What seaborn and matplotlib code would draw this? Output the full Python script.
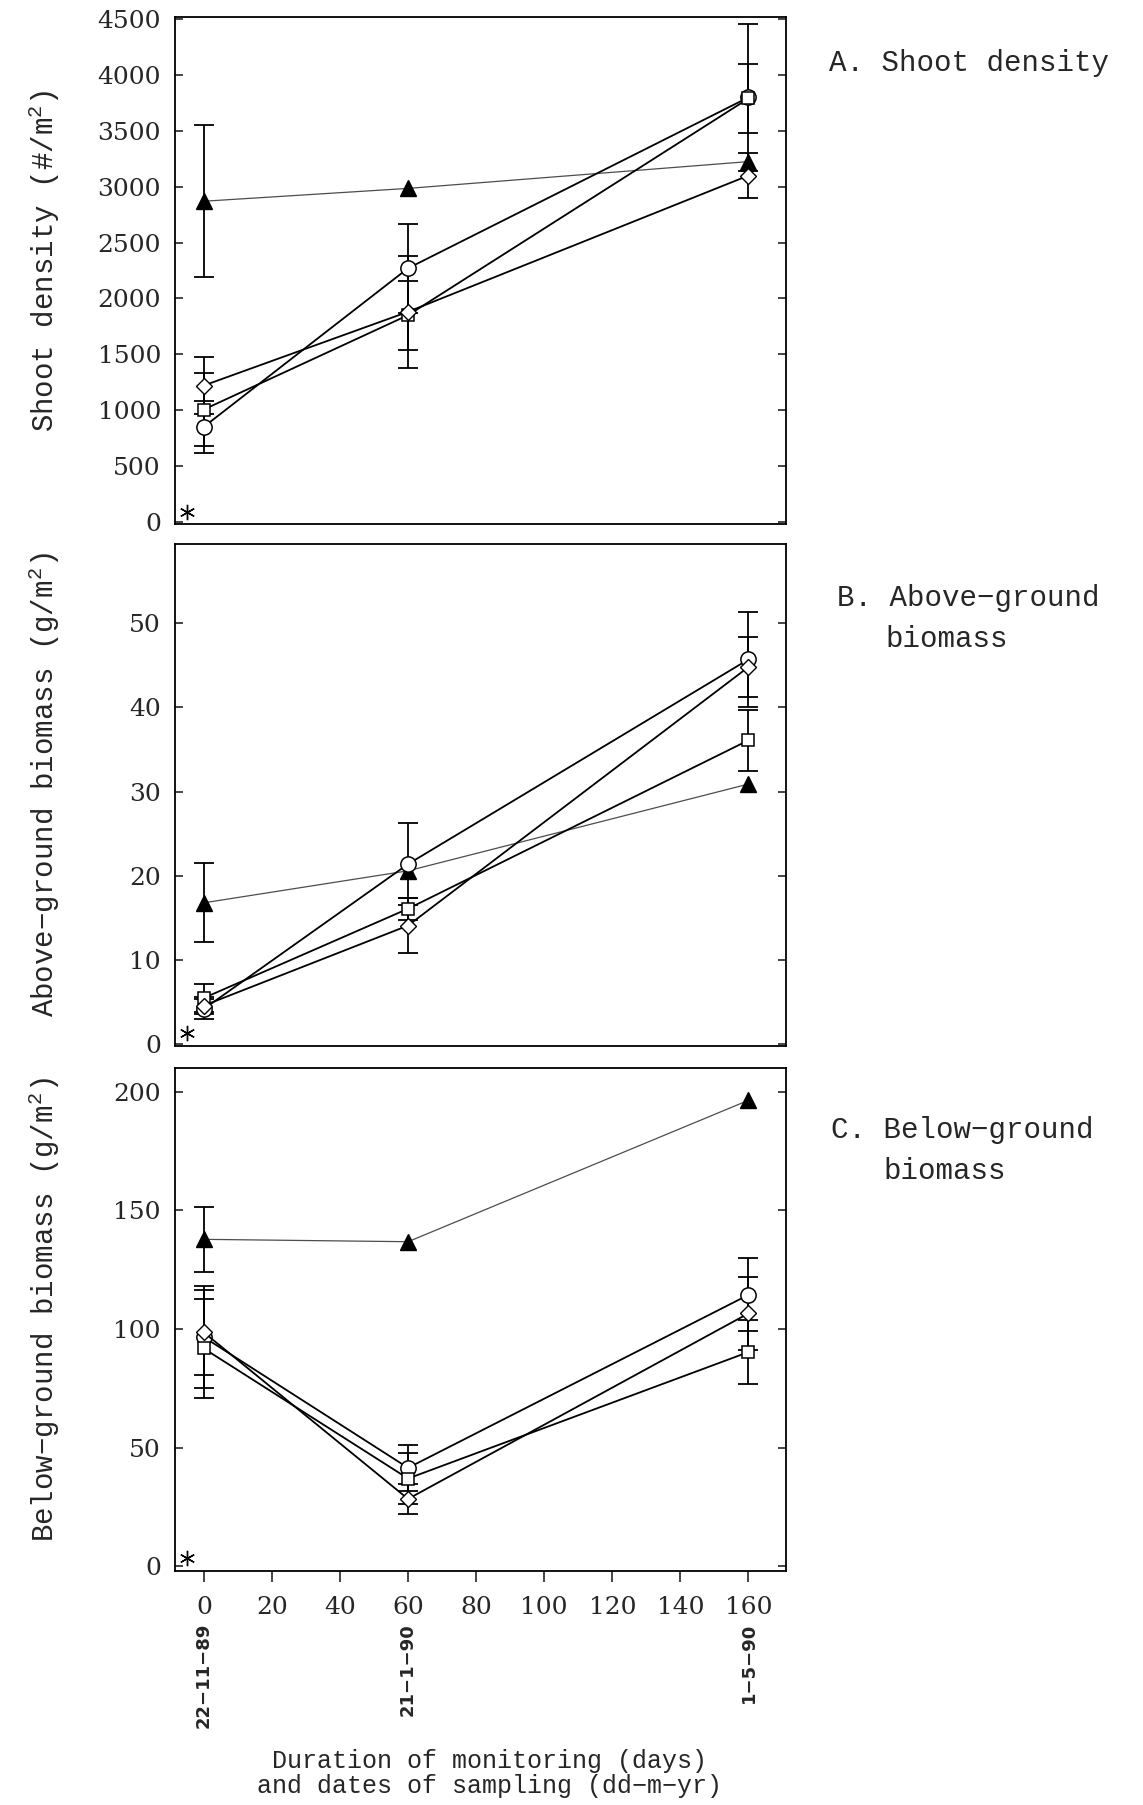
import numpy as np
import pandas as pd
import matplotlib
matplotlib.use('Agg')
import matplotlib.pyplot as plt
import matplotlib.transforms as mtransforms
import seaborn as sns

# sampling days and dates
days = [0, 60, 160]
dates = ['22\u221211\u221289', '21\u22121\u221290', '1\u22125\u221290']

# A. shoot density (#/m2)
shoot_circle = [850, 2270, 3800]
shoot_circle_err = [230, 400, 660]
shoot_square = [1005, 1850, 3790]
shoot_square_err = [325, 310, 310]
shoot_diamond = [1220, 1880, 3100]
shoot_diamond_err = [255, 500, 200]
shoot_triangle = [2870, 2985, 3225]
shoot_triangle_err = [680, 0, 0]

# B. above-ground biomass (g/m2)
above_circle = [4.2, 21.4, 45.7]
above_circle_err = [1.2, 4.9, 5.6]
above_square = [5.5, 16.1, 36.1]
above_square_err = [1.7, 1.3, 3.6]
above_diamond = [4.6, 14.1, 44.8]
above_diamond_err = [1.0, 3.3, 3.6]
above_triangle = [16.8, 20.6, 30.9]
above_triangle_err = [4.7, 0, 0]

# C. below-ground biomass (g/m2)
below_circle = [96.6, 41.5, 114.4]
below_circle_err = [21.6, 9.8, 15.4]
below_square = [91.8, 37.0, 90.3]
below_square_err = [21.0, 10.6, 13.6]
below_diamond = [98.6, 28.4, 106.6]
below_diamond_err = [18.0, 6.5, 15.4]
below_triangle = [137.8, 136.8, 196.4]
below_triangle_err = [13.6, 0, 0]

sns.set_style('ticks')
plt.rcParams['font.family'] = ['DejaVu Serif']
plt.rcParams['mathtext.fontset'] = 'custom'
plt.rcParams['mathtext.rm'] = 'Liberation Mono'
MONO = ['Liberation Mono', 'DejaVu Sans Mono']

fig = plt.figure(figsize=(11.43, 18.05), dpi=100)
axA = fig.add_axes([0.153, 0.7097, 0.5346, 0.2809])
axB = fig.add_axes([0.153, 0.4205, 0.5346, 0.2781])
axC = fig.add_axes([0.153, 0.1296, 0.5346, 0.2787])

marker_style = {
    'circle': dict(marker='o', markersize=11, mfc='white', mec='black', mew=1.1),
    'square': dict(marker='s', markersize=9, mfc='white', mec='black', mew=1.1),
    'diamond': dict(marker='D', markersize=8, mfc='white', mec='black', mew=1.0),
    'triangle': dict(marker='^', markersize=11, mfc='black', mec='black', mew=1.0),
}


def draw_panel(ax, series, ylim, yticks, ylabel, star_y):
    for name, vals, errs in series:
        tri = name == 'triangle'
        errs = [e if e > 0 else np.nan for e in errs]
        ax.errorbar(days, vals, yerr=errs, fmt='none', ecolor='black',
                    elinewidth=1.3, capsize=7, capthick=1.3, zorder=2)
        sns.lineplot(x=days, y=vals, ax=ax, color='0.3' if tri else 'black',
                     lw=0.9 if tri else 1.3, zorder=3, **marker_style[name])
    ax.plot([-4.8], [star_y], marker=(6, 2, 0), color='black', ms=11, mew=1.0,
            ls='none', clip_on=False)
    ax.set_xlim(-8.5, 171)
    ax.set_ylim(*ylim)
    ax.set_yticks(yticks)
    ax.tick_params(axis='y', direction='in', left=True, right=True,
                   length=6, width=1.2, labelsize=18, pad=10)
    for s in ax.spines.values():
        s.set_linewidth(1.3)
        s.set_color('black')
    ax.set_ylabel(ylabel, fontsize=21, family=MONO)
    ax.yaxis.set_label_coords(-0.185, 0.52)


draw_panel(axA,
           [('triangle', shoot_triangle, shoot_triangle_err),
            ('circle', shoot_circle, shoot_circle_err),
            ('square', shoot_square, shoot_square_err),
            ('diamond', shoot_diamond, shoot_diamond_err)],
           (-20, 4520), np.arange(0, 4501, 500), r'Shoot density (#/m$^2$)', 90)
draw_panel(axB,
           [('triangle', above_triangle, above_triangle_err),
            ('circle', above_circle, above_circle_err),
            ('square', above_square, above_square_err),
            ('diamond', above_diamond, above_diamond_err)],
           (-0.2, 59.4), np.arange(0, 51, 10), 'Above\u2212ground biomass (g/m$^2$)', 1.3)
draw_panel(axC,
           [('triangle', below_triangle, below_triangle_err),
            ('circle', below_circle, below_circle_err),
            ('square', below_square, below_square_err),
            ('diamond', below_diamond, below_diamond_err)],
           (-2, 210), np.arange(0, 201, 50), 'Below\u2212ground biomass (g/m$^2$)', 3.5)

for ax in (axA, axB):
    ax.tick_params(axis='x', bottom=False, labelbottom=False)
    ax.set_xlabel('')

axC.set_xticks(np.arange(0, 161, 20))
axC.tick_params(axis='x', direction='out', length=8, width=1.2, labelsize=18, pad=10)
axC.set_xlabel('')

# sampling dates under the x axis
trans = mtransforms.blended_transform_factory(axC.transData, axC.transAxes)
for d, lab in zip(days, dates):
    axC.text(d, -0.103, lab, transform=trans, rotation=90, ha='center', va='top',
             fontsize=13, fontweight='bold', family='DejaVu Sans')

fig.text(0.428, 1 - 1761 / 1805, 'Duration of monitoring (days)',
         ha='center', va='center', fontsize=18, family=MONO)
fig.text(0.428, 1 - 1786 / 1805, 'and dates of sampling (dd\u2212m\u2212yr)',
         ha='center', va='center', fontsize=18, family=MONO)

# panel titles
fig.text(829 / 1143, 1 - 63 / 1805, 'A. Shoot density', ha='left', va='center',
         fontsize=21, family=MONO)
fig.text(837 / 1143, 1 - 598 / 1805, 'B. Above\u2212ground', ha='left', va='center',
         fontsize=21, family=MONO)
fig.text(885 / 1143, 1 - 639 / 1805, 'biomass', ha='left', va='center',
         fontsize=21, family=MONO)
fig.text(831 / 1143, 1 - 1130 / 1805, 'C. Below\u2212ground', ha='left', va='center',
         fontsize=21, family=MONO)
fig.text(883 / 1143, 1 - 1171 / 1805, 'biomass', ha='left', va='center',
         fontsize=21, family=MONO)

fig.savefig('out.png', dpi=100, facecolor='white')
